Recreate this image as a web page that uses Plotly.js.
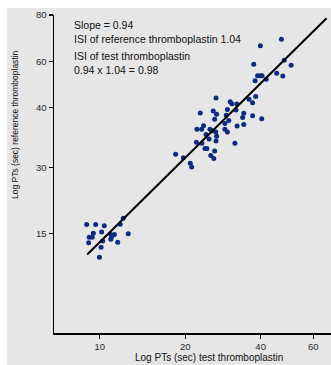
<!DOCTYPE html>
<html>
<head>
<meta charset="utf-8">
<script src="https://cdn.plot.ly/plotly-3.0.1.min.js"></script>
<style>
  html, body { margin: 0; padding: 0; background: #ffffff; }
  #bg { position: absolute; left: 7px; top: 8px; width: 324px; height: 357px; background: #e6e6e6; }
  #chart { position: absolute; left: 0; top: 0; width: 331px; height: 365px; }
</style>
</head>
<body>
<div id="bg"></div>
<div id="chart"></div>
<script>
// Axis tick positions (plot units) and their printed labels
const xTickVals = [16.5, 47.4, 74.6, 93.6];
const xTickText = ['10', '20', '40', '60'];
const yTickVals = [31.3, 52.0, 71.0, 85.4, 100];
const yTickText = ['15', '30', '40', '60', '80'];

// Test thromboplastin (x) vs reference thromboplastin (y), plot units
const testPT = [
  11.8, 15.05, 18.16, 25.0, 23.9, 14.2, 17.2, 12.7, 13.8, 12.5, 17.6, 20.5, 21.8, 20.8, 20.5, 23.0, 26.8, 17.0, 16.4,
  82.1, 74.5, 83.1, 72.1, 85.6, 80.4, 73.5, 74.5, 75.1, 76.6, 72.6, 82.6,
  58.5, 63.6, 64.2, 66.0, 70.4, 71.7, 72.8, 62.6, 57.5, 58.7, 52.8, 65.7, 68.5, 68.1, 71.7, 75.0,
  58.0, 63.1, 62.2, 54.0, 51.6, 53.3, 56.3, 57.1, 58.4, 58.7, 54.9, 56.0, 61.7, 62.6, 61.7, 66.1, 68.5,
  51.4, 53.4, 58.5, 65.3, 54.5, 55.2, 58.0, 56.6, 57.7, 43.9, 46.7, 49.2, 49.7
];
const refPT = [
  34.1, 34.1, 33.7, 36.1, 34.2, 31.4, 31.8, 30.1, 30.1, 28.4, 28.9, 31.0, 31.0, 30.3, 29.5, 28.5, 31.2, 27.0, 23.8,
  92.4, 90.3, 85.8, 84.5, 84.2, 81.7, 80.9, 80.9, 80.9, 79.8, 79.3, 80.8,
  73.9, 72.7, 72.1, 72.0, 73.5, 72.4, 74.4, 70.3, 69.8, 68.8, 69.2, 70.1, 69.1, 67.8, 68.3, 67.4,
  67.2, 66.8, 68.5, 65.2, 64.1, 64.1, 64.1, 63.6, 63.2, 61.9, 62.4, 61.0, 64.1, 63.2, 65.9, 65.1, 65.6,
  60.0, 59.7, 60.4, 59.7, 58.0, 58.0, 57.2, 55.8, 54.9, 56.2, 55.1, 53.4, 52.2
];

// Regression line end points (plot units)
const fitX = [12.0, 98.4];
const fitY = [24.7, 99.0];

const noteBlocks = [
  'Slope = 0.94<br>ISI of reference thromboplastin 1.04',
  'ISI of test thromboplastin<br>0.94 x 1.04 = 0.98'
];
const noteY = [0.948, 0.8475];

const font = 'Liberation Sans, Arial, sans-serif';

const traces = [
  {
    x: testPT, y: refPT, type: 'scatter', mode: 'markers',
    marker: { color: '#0c2c82', size: 5, line: { width: 0 } },
    hoverinfo: 'skip'
  },
  {
    x: fitX, y: fitY, type: 'scatter', mode: 'lines',
    line: { color: '#000000', width: 2 },
    hoverinfo: 'skip'
  }
];

const annotations = noteBlocks.map((t, i) => ({
  text: t, xref: 'paper', yref: 'paper', x: 0.065, y: noteY[i],
  xanchor: 'left', yanchor: 'middle', align: 'left', showarrow: false,
  font: { family: font, size: 10.5, color: '#111' }
}));
annotations.push({
  text: 'Log PTs (sec) test thromboplastin', xref: 'paper', yref: 'paper',
  x: 0.56, y: -0.078, xanchor: 'center', yanchor: 'middle', showarrow: false,
  font: { family: font, size: 10, color: '#111' }
});
annotations.push({
  text: 'Log PTs (sec) reference thromboplastin', xref: 'paper', yref: 'paper',
  x: -0.141, y: 0.657, xanchor: 'center', yanchor: 'middle', showarrow: false,
  textangle: -90,
  font: { family: font, size: 8.5, color: '#111' }
});

const layout = {
  width: 331, height: 365,
  margin: { l: 54, r: 0, t: 15, b: 32, pad: 0 },
  paper_bgcolor: 'rgba(0,0,0,0)',
  plot_bgcolor: 'rgba(0,0,0,0)',
  showlegend: false,
  xaxis: {
    range: [0, 100], showgrid: false, zeroline: false,
    showline: true, linecolor: '#000', linewidth: 1.5, mirror: false,
    ticks: 'outside', ticklen: 4, tickwidth: 1.2, tickcolor: '#000',
    tickmode: 'array', tickvals: xTickVals, ticktext: xTickText,
    tickfont: { family: font, size: 9.5, color: '#2a2a2a' }
  },
  yaxis: {
    range: [0, 100], showgrid: false, zeroline: false,
    showline: true, linecolor: '#000', linewidth: 1.5, mirror: false,
    ticks: 'outside', ticklen: 4, tickwidth: 1.2, tickcolor: '#000',
    tickmode: 'array', tickvals: yTickVals, ticktext: yTickText,
    tickfont: { family: font, size: 9.5, color: '#2a2a2a' }
  },
  annotations: annotations
};

Plotly.newPlot('chart', traces, layout, { staticPlot: true, displayModeBar: false });
</script>
</body>
</html>
